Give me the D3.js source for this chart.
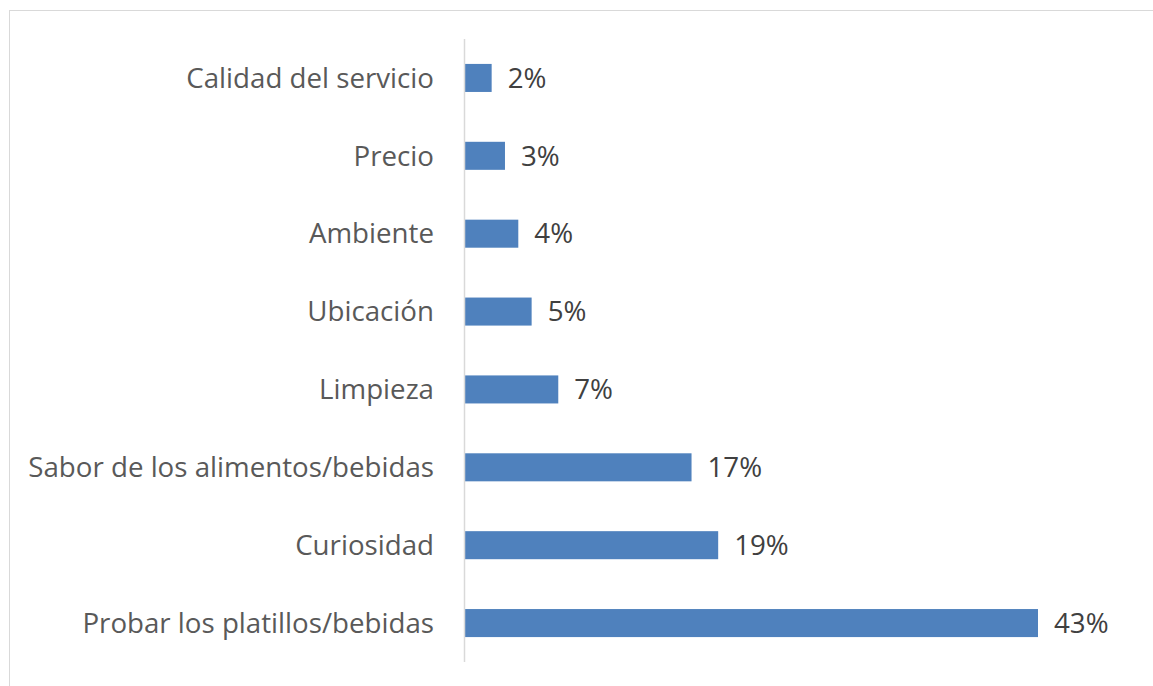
<!DOCTYPE html>
<html>
<head>
<meta charset="utf-8">
<script src="https://cdn.jsdelivr.net/npm/d3@7"></script>
<style>
  body { margin: 0; background: #fff; }
  svg { display: block; }
  .cat { fill: #595959; font-family: "Open Sans", sans-serif; }
  .val { fill: #404040; font-family: "Open Sans", sans-serif; }
</style>
</head>
<body>
<div id="chart"></div>
<script>
// data
var categories = ["Calidad del servicio", "Precio", "Ambiente", "Ubicación", "Limpieza",
                  "Sabor de los alimentos/bebidas", "Curiosidad", "Probar los platillos/bebidas"];
var values = [2, 3, 4, 5, 7, 17, 19, 43];

var width = 1153, height = 686;
var axisX = 465;

var svg = d3.select("#chart").append("svg")
            .attr("width", width)
            .attr("height", height);

// light frame around the chart area
svg.append("rect")
   .attr("x", 9.5).attr("y", 10.5)
   .attr("width", 1160).attr("height", 700)
   .attr("fill", "none")
   .attr("stroke", "#d9d9d9")
   .attr("stroke-width", 1);

var y = d3.scaleBand()
          .domain(categories)
          .range([39, 662])
          .paddingInner(0.64)
          .paddingOuter(0.32);

var x = d3.scaleLinear()
          .domain([0, 43])
          .range([axisX, 1038]);

svg.selectAll("rect.bar")
   .data(values)
   .enter().append("rect")
   .attr("class", "bar")
   .attr("x", x(0))
   .attr("y", function(d, i) { return y(categories[i]); })
   .attr("width", function(d) { return x(d) - x(0); })
   .attr("height", y.bandwidth())
   .attr("fill", "#4f81bd");

// vertical axis line
svg.append("line")
   .attr("x1", axisX - 0.5).attr("x2", axisX - 0.5)
   .attr("y1", 39).attr("y2", 662)
   .attr("stroke", "#d9d9d9")
   .attr("stroke-width", 1.5);

var fs = 27.7;
svg.selectAll("text.cat")
   .data(categories)
   .enter().append("text")
   .attr("class", "cat")
   .attr("x", 434)
   .attr("y", function(d) { return y(d) + y.bandwidth() / 2; })
   .attr("dy", "0.35em")
   .attr("text-anchor", "end")
   .style("font-size", fs + "px")
   .text(function(d) { return d; });

svg.selectAll("text.val")
   .data(values)
   .enter().append("text")
   .attr("class", "val")
   .attr("x", function(d) { return x(d) + 16; })
   .attr("y", function(d, i) { return y(categories[i]) + y.bandwidth() / 2; })
   .attr("dy", "0.35em")
   .style("font-size", fs + "px")
   .text(function(d) { return d + "%"; });
</script>
</body>
</html>
